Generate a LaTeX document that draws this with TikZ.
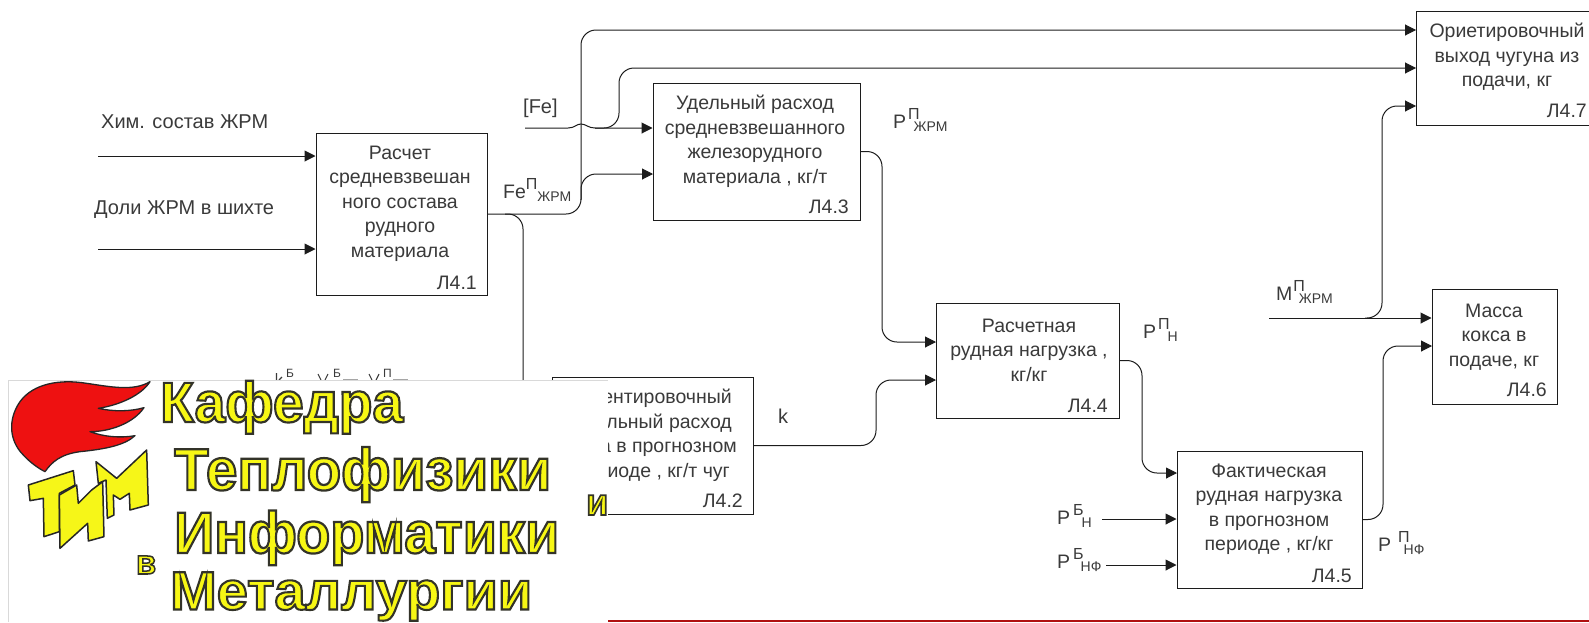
\documentclass[tikz,border=0pt]{standalone}
\usepackage{fontspec}
\setmainfont{Liberation Sans}
\usetikzlibrary{arrows.meta}
\definecolor{ink}{HTML}{1C1C1C}
\definecolor{txt}{HTML}{3A3A3A}
\definecolor{flame}{HTML}{EE1111}
\definecolor{gold}{HTML}{F6F618}
\newcommand\ru[1]{\fontsize{#1}{24.5}\selectfont}
\newcommand\fl{\rule{0pt}{14pt}}
% stroked bold logo text: width, stroke, vertical scale, word
\newcommand\logotxt[4]{\scalebox{1}[#3]{\resizebox{#1pt}{!}{\special{pdf:code 2 Tr #2 w 0.2 0.2 0.16 RG 0.97 0.97 0.08 rg}\fontsize{58}{60}\selectfont\bfseries #4\special{pdf:code 0 Tr 1 w 0 g 0 G}}}}
% label: main, gap, sup, gap, sub
\newcommand\lab[5]{\ru{19.5}#1\hspace{#2pt}\raisebox{8.5pt}{\ru{16}#3}\hspace{#4pt}\raisebox{-3.5pt}{\ru{14}#5}}
\tikzset{
  x=1pt,y=-1pt,
  block/.style={draw=ink,line width=1pt,fill=white,inner sep=0pt},
  body/.style={text=txt,font=\ru{19.5},align=center,inner sep=0pt,anchor=north},
  idtag/.style={text=txt,font=\ru{19.5},inner sep=0pt,anchor=base east},
  free/.style={text=txt,font=\ru{20},inner sep=0pt,anchor=base west},
  frag/.style={text=txt,font=\ru{19.5},inner sep=0pt,anchor=base east},
  wire/.style={draw=ink,line width=1pt},
  flow/.style={wire,-{Triangle[length=11pt,width=11pt]}},
  curvy/.style={rounded corners=15pt},
  logo/.style={inner sep=0pt,anchor=base west},
  tim/.style={draw=black!85,line width=1.5pt,fill=gold,line join=round},
  stub/.style={draw=txt,line width=1.1pt},
  stubsub/.style={draw=black!35,line width=1pt},
}
\begin{document}
\begin{tikzpicture}
\useasboundingbox (0,0) rectangle (1589,622);
% boxes
\node[block,minimum width=171pt,minimum height=162pt] (l1) at (401.5,214) {};
\node[block,minimum width=201pt,minimum height=137pt] (l2) at (652.5,445.5) {};
\node[block,minimum width=207pt,minimum height=137pt] (l3) at (756.5,151.5) {};
\node[block,minimum width=183pt,minimum height=115pt] (l4) at (1027.5,360.5) {};
\node[block,minimum width=185pt,minimum height=137pt] (l5) at (1269.5,519.5) {};
\node[block,minimum width=125pt,minimum height=115pt] (l6) at (1494.5,346.5) {};
\node[block,minimum width=173pt,minimum height=114pt] (l7) at (1502.5,68) {};
% port coordinates
\coordinate (him) at (98,156);
\coordinate (dol) at (98,249);
\coordinate (fe) at (525,128);
\coordinate (l3b) at (653,174);
\coordinate (l7a) at (1416,30);
\coordinate (l7b) at (1416,68);
\coordinate (l7c) at (1416,106);
\coordinate (l4a) at (936,342);
\coordinate (l4b) at (936,380);
\coordinate (l5a) at (1177,473);
\coordinate (pbn) at (1102,519);
\coordinate (pbnf) at (1106,565);
\coordinate (mj) at (1269,318);
\coordinate (l6b) at (1432,346);
\coordinate (under) at (523,390);
% connectors
\draw[flow] (him) -- (him -| l1.west);
\draw[flow] (dol) -- (dol -| l1.west);
\draw[flow] (fe) -- (568,128) .. controls (575,128) and (576,124) .. (581,124) .. controls (586,124) and (588,128) .. (595,128) -- (fe -| l3.west);
\draw[flow,curvy] (595,128) -- (619,128) -- (619,68) -- (l7b);
\draw[flow,curvy] (l1.east) -- (581,214) -- (581,30) -- (l7a);
\draw[flow,curvy] (581,200) -- (581,174) -- (l3b);
\draw[wire,curvy] (505,214) -- (523,214) -- (under);
\draw[flow,curvy] (l3.east) -- (882,151.5) -- (882,342) -- (l4a);
\draw[flow,curvy] (l2.east) -- (876,445.5) -- (876,380) -- (l4b);
\draw[flow,curvy] (l4.east) -- (1142,360.5) -- (1142,473) -- (l5a);
\draw[flow,curvy] (l5.east) -- (1383,519.5) -- (1383,346) -- (l6b);
\draw[flow] (pbn) -- (pbn -| l5.west);
\draw[flow] (pbnf) -- (pbnf -| l5.west);
\draw[flow] (mj) -- (mj -| l6.west);
\draw[flow,curvy] (1365,318) -- (1382,318) -- (1382,106) -- (l7c);
% box texts
\node[body] (t1) at (400,145) {\fl Расчет\\средневзвешан\\ного состава\\рудного\\материала};
\node[idtag] (i1) at (477,289) {Л4.1};
\node[body] (t3) at (755,95) {\fl Удельный расход\\средневзвешанного\\железорудного\\материала , кг/т};
\node[idtag] (i3) at (849,213) {Л4.3};
\node[body] (t4) at (1029,318) {\fl Расчетная\\рудная нагрузка ,\\кг/кг};
\node[idtag] (i4) at (1108,412) {Л4.4};
\node[body] (t5) at (1269,463) {\fl Фактическая\\рудная нагрузка\\в прогнозном\\периоде , кг/кг};
\node[idtag] (i5) at (1352,582) {Л4.5};
\node[body] (t6) at (1494,303) {\fl Масса\\кокса в\\подаче, кг};
\node[idtag] (i6) at (1547,396) {Л4.6};
\node[body] (t7) at (1507,23) {\fl Ориетировочный\\выход чугуна из\\подачи, кг};
\node[idtag] (i7) at (1587,117) {Л4.7};
\node[frag] (f1) at (732,403) {ентировочный};
\node[frag] (f2) at (732,428) {льный расход};
\node[frag] (f3) at (737,452) {а в прогнозном};
\node[frag] (f4) at (730,477) {иоде , кг/т чуг};
\node[idtag] (i2) at (743,507) {Л4.2};
% free labels
\node[free] (n1) at (101,128) {Хим. состав ЖРМ};
\node[free] (n2) at (94,214) {Доли ЖРМ в шихте};
\node[free] (n3) at (523,113) {[Fe]};
\node[free] (n4) at (778,423) {k};
\node[free] (n5) at (503,198) {\lab{Fe}{0}{П}{0}{ЖРМ}};
\node[free] (n6) at (893,128) {\lab{Р}{2}{П}{-6}{ЖРМ}};
\node[free] (n7) at (1143,338) {\lab{Р}{2}{П}{-2}{Н}};
\node[free] (n8) at (1276,300) {\lab{М}{1}{П}{-6}{ЖРМ}};
\node[free] (n9) at (1057,524) {\lab{Р}{3}{Б}{-2}{Н}};
\node[free] (n10) at (1057,568) {\lab{Р}{3}{Б}{-3}{НФ}};
\node[free] (n11) at (1378,551) {\lab{Р}{7}{П}{-6}{НФ}};
% labels cut by the panel: only the tops of their letters show
\node[free,font=\ru{12}] (c2) at (286,377.5) {Б};
\node[free,font=\ru{12}] (c4) at (333,377.5) {Б};
\node[free,font=\ru{12}] (c6) at (383,377.5) {П};
\draw[stub] (276.5,373) -- (276.5,380) (282,377) -- (279,380);
\draw[stub] (318,374) -- (321,380) (328,374) -- (325,380);
\draw[stub] (369,374) -- (372,380) (379,374) -- (376,380);
\draw[stubsub] (343,379.3) -- (358,379.3) (393,379.3) -- (408,379.3);
% logo panel
\fill[white] (8,380) rectangle (608,622);
\draw[black!15,line width=.8pt] (8,622) -- (8,380) -- (608,380);
\coordinate (redL) at (608,621);
\coordinate (redR) at (1589,621);
\draw[color={rgb,255:red,176;green,16;blue,16},line width=1.4pt] (redL) -- (redR);
% flame
\begin{scope}[shift={(10,375)},x=.3333pt,y=-.3333pt]
\draw[fill=flame,draw=black!85,line width=1.3pt,line join=round]
 (420,20) .. controls (370,50) and (300,35) .. (230,25) .. controls (150,12) and (70,25) .. (30,80)
 .. controls (-5,130) and (-5,195) .. (40,240) .. controls (60,262) and (85,280) .. (105,290)
 .. controls (125,262) and (150,238) .. (210,230) .. controls (290,222) and (345,210) .. (375,182)
 .. controls (330,190) and (280,185) .. (240,170) .. controls (300,170) and (370,145) .. (402,98)
 .. controls (360,110) and (310,110) .. (265,100) .. controls (330,90) and (395,60) .. (420,20) -- cycle;
\end{scope}
% TIM letters
\begin{scope}[shift={(20,440)},x=.3333pt,y=-.3333pt]
\draw[tim] (25,135) -- (160,92) -- (165,135) -- (118,160) -- (118,275) -- (72,290) -- (70,175) -- (30,182) -- cycle;
\draw[tim] (228,65) -- (290,115) -- (380,30) -- (385,195) -- (330,210) -- (328,160) -- (300,178) -- (280,165) -- (282,225) -- (262,235) -- (258,120) -- (235,130) -- cycle;
\draw[tim] (118,165) -- (170,135) -- (175,190) -- (215,150) -- (248,125) -- (252,290) -- (205,303) -- (203,250) -- (120,325) -- cycle;
\end{scope}
% logo words
\node[logo] (w1) at (160,422) {\logotxt{243}{2.2}{1.03}{Кафедра}};
\node[logo] (w2) at (174,490) {\logotxt{377}{2.2}{1.05}{Теплофизики}};
\node[logo] (w3) at (174,553) {\logotxt{385}{2.2}{1.05}{Информатики}};
\node[logo] (w4) at (170,609.5) {\logotxt{362}{2.2}{.97}{Металлургии}};
\node[logo] (w5) at (586,515) {\logotxt{22}{2.6}{1.05}{и}};
\node[logo] (w6) at (136,574) {\logotxt{20}{2.6}{1.05}{в}};
\end{tikzpicture}
\end{document}
